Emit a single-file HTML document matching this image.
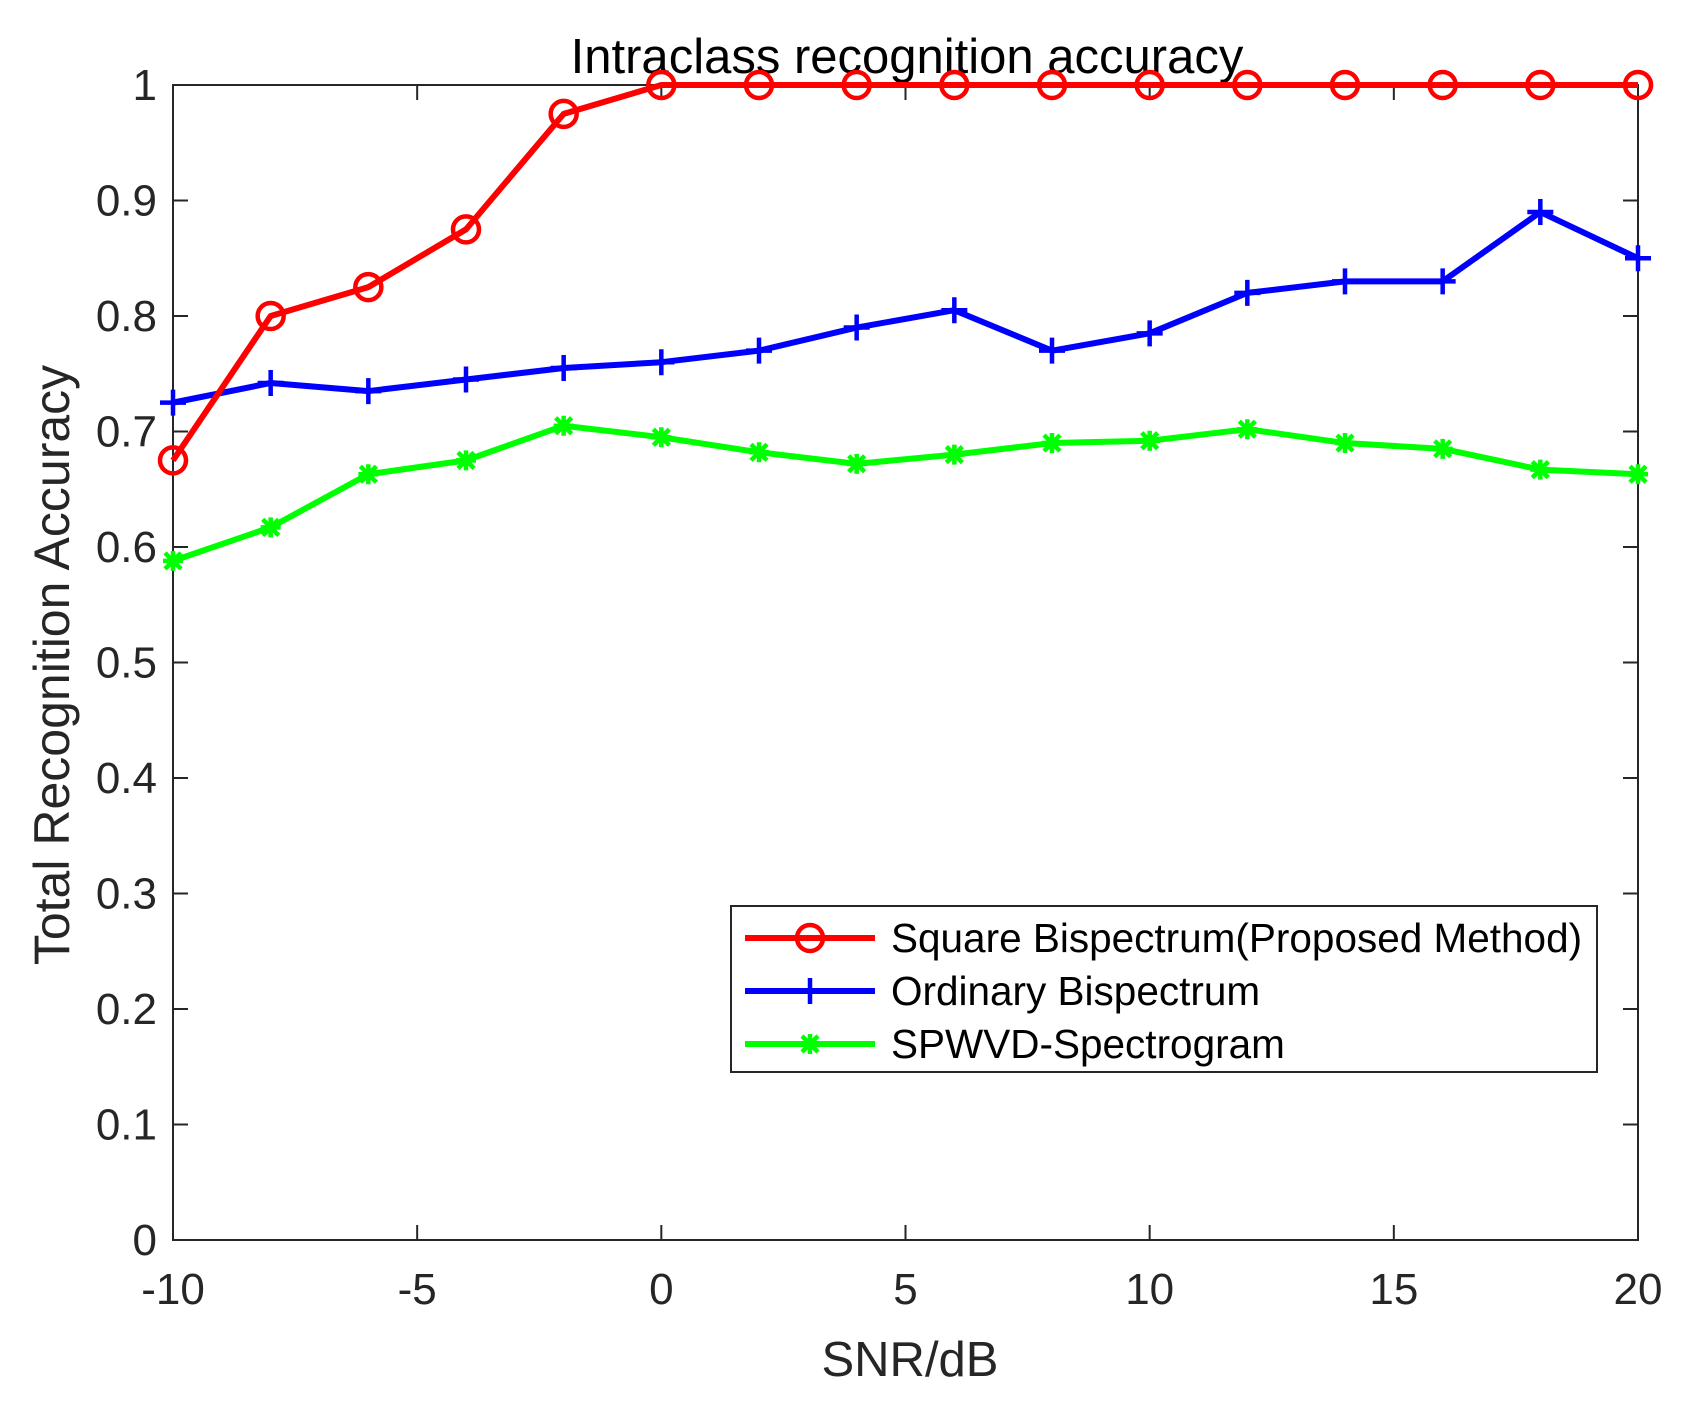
<!DOCTYPE html>
<html><head><meta charset="utf-8"><style>
html,body{margin:0;padding:0;background:#fff;}
svg text{font-family:"Liberation Sans",Arial,sans-serif;fill:#262626;}
</style></head><body>
<svg id="chart" width="1695" height="1398" viewBox="0 0 1695 1398" xmlns="http://www.w3.org/2000/svg">
<rect width="1695" height="1398" fill="#fff"/>
<g id="axes"></g>
<g id="series"></g>
<g id="legend"></g>
</svg>
<script>
const snr = [-10,-8,-6,-4,-2,0,2,4,6,8,10,12,14,16,18,20];
const squareBisp = [0.675,0.8,0.825,0.875,0.975,1,1,1,1,1,1,1,1,1,1,1];
const ordinaryBisp = [0.725,0.742,0.735,0.745,0.755,0.76,0.77,0.79,0.805,0.77,0.785,0.82,0.83,0.83,0.89,0.85];
const spwvd = [0.588,0.617,0.663,0.675,0.705,0.695,0.682,0.672,0.68,0.69,0.692,0.702,0.69,0.685,0.667,0.663];
const xTicks = [-10,-5,0,5,10,15,20];
const yTicks = [0,0.1,0.2,0.3,0.4,0.5,0.6,0.7,0.8,0.9,1];
const yTickLabels = ["0","0.1","0.2","0.3","0.4","0.5","0.6","0.7","0.8","0.9","1"];

const NS="http://www.w3.org/2000/svg";
const L=173,R=1638,T=85,B=1240;
const xs=v=>L+(v+10)/30*(R-L);
const ys=v=>B-v*(B-T);
function mk(tag,attrs,parent){const e=document.createElementNS(NS,tag);for(const k in attrs)e.setAttribute(k,attrs[k]);parent.appendChild(e);return e;}
const axes=document.getElementById('axes');
const box=mk('rect',{x:L,y:T,width:R-L,height:B-T,fill:'none',stroke:'#262626','stroke-width':2},axes);


xTicks.forEach(t=>{
  const x=xs(t);
  mk('line',{x1:x,y1:B,x2:x,y2:B-15,stroke:'#262626','stroke-width':2},axes);
  mk('line',{x1:x,y1:T,x2:x,y2:T+15,stroke:'#262626','stroke-width':2},axes);
  const tx=mk('text',{x:x,y:1304,'font-size':44,'text-anchor':'middle'},axes);
  tx.textContent=String(t);
  
  
});
yTicks.forEach((t,i)=>{
  const y=ys(t);
  mk('line',{x1:L,y1:y,x2:L+15,y2:y,stroke:'#262626','stroke-width':2},axes);
  mk('line',{x1:R,y1:y,x2:R-15,y2:y,stroke:'#262626','stroke-width':2},axes);
  const tx=mk('text',{x:157,y:y+15,'font-size':44,'text-anchor':'end'},axes);
  tx.textContent=yTickLabels[i];
  
  
});
const title=mk('text',{x:907,y:73,'font-size':49,'text-anchor':'middle',style:'fill:#000'},axes);
title.textContent='Intraclass recognition accuracy';


const xl=mk('text',{x:910,y:1376,'font-size':49,'text-anchor':'middle'},axes);
xl.textContent='SNR/dB';


const yl=mk('text',{x:0,y:0,'font-size':50,'text-anchor':'middle',transform:'translate(69,665) rotate(-90)'},axes);
yl.textContent='Total Recognition Accuracy';



function marker(kind,x,y,color,g){
  if(kind==='o'){mk('circle',{cx:x,cy:y,r:13,fill:'none',stroke:color,'stroke-width':4.5},g);}
  else if(kind==='+'){mk('path',{d:`M${x-13} ${y}H${x+13}M${x} ${y-13}V${y+13}`,stroke:color,'stroke-width':4.5,fill:'none'},g);}
  else {mk('path',{d:`M${x-10} ${y}H${x+10}M${x} ${y-10}V${y+10}M${x-8} ${y-8}L${x+8} ${y+8}M${x-8} ${y+8}L${x+8} ${y-8}`,stroke:color,'stroke-width':4.5,fill:'none'},g);}
}
const seriesG=document.getElementById('series');
const series=[
  {name:'Square Bispectrum(Proposed Method)',vals:squareBisp,color:'#ff0000',m:'o',id:'series-square-bispectrum'},
  {name:'Ordinary Bispectrum',vals:ordinaryBisp,color:'#0000ff',m:'+',id:'series-ordinary-bispectrum'},
  {name:'SPWVD-Spectrogram',vals:spwvd,color:'#00ff00',m:'*',id:'series-spwvd-spectrogram'}
];
series.slice().reverse().forEach(s=>{
  const g=mk('g',{},seriesG);
  
  
  const pts=s.vals.map((v,i)=>xs(snr[i])+','+ys(v)).join(' ');
  mk('polyline',{points:pts,fill:'none',stroke:s.color,'stroke-width':6,'stroke-linejoin':'round'},g);
  s.vals.forEach((v,i)=>marker(s.m,xs(snr[i]),ys(v),s.color,g));
});
const lg=document.getElementById('legend');


mk('rect',{x:731,y:906,width:866,height:166,fill:'#fff',stroke:'#262626','stroke-width':2},lg);
series.forEach((s,i)=>{
  const y=938+i*53;
  const e=mk('g',{},lg);
  
  
  mk('line',{x1:745,y1:y,x2:875,y2:y,stroke:s.color,'stroke-width':6},e);
  marker(s.m,810,y,s.color,e);
  const t=mk('text',{x:891,y:y+14,'font-size':40.5,style:'fill:#000'},e);
  t.textContent=s.name;
});
</script>
</body></html>
